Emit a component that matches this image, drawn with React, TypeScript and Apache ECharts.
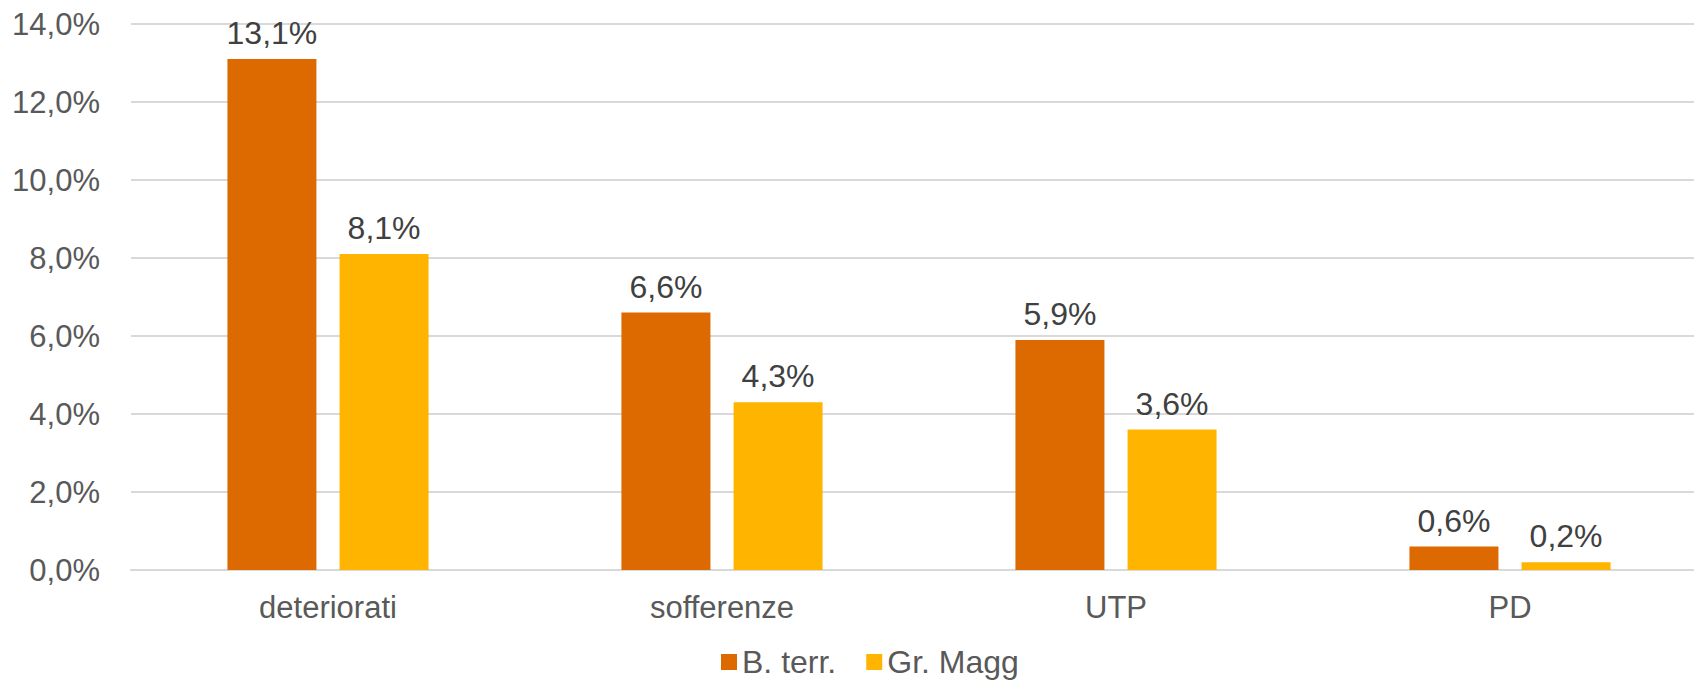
import React, { useEffect, useRef } from "react";
import * as echarts from "echarts";

const categories = ["deteriorati", "sofferenze", "UTP", "PD"];
const seriesNames = ["B. terr.", "Gr. Magg"];
const bTerr = [13.1, 6.6, 5.9, 0.6];
const grMagg = [8.1, 4.3, 3.6, 0.2];
const colors = ["#DD6A00", "#FFB500"];

const fmt = (v: number) => v.toFixed(1).replace(".", ",") + "%";
const FONT = "'Liberation Sans', Arial, sans-serif";

export default function App() {
  const ref = useRef<HTMLDivElement>(null);
  useEffect(() => {
    if (!ref.current) return;
    const chart = echarts.init(ref.current, null, { renderer: "svg" });
    const label = {
      show: true,
      position: "top" as const,
      distance: 10,
      color: "#404040",
      fontSize: 32,
      fontFamily: FONT,
      formatter: (p: any) => fmt(p.value),
    };
    chart.setOption({
      animation: false,
      textStyle: { fontFamily: FONT },
      grid: {
        left: 131,
        width: 1576,
        top: 24,
        bottom: 116,
        containLabel: false,
        outerBoundsMode: "none",
      },
      legend: {
        top: 641,
        left: 716,
        itemWidth: 16,
        itemHeight: 16,
        itemGap: 30,
        icon: "rect",
        textStyle: {
          color: "#595959",
          fontSize: 32,
          fontFamily: FONT,
        },
        data: seriesNames,
      },
      xAxis: {
        type: "category",
        data: categories,
        axisLine: { show: true, lineStyle: { color: "#D9D9D9", width: 2 } },
        axisTick: { show: false },
        axisLabel: { color: "#595959", fontSize: 31, fontFamily: FONT, margin: 22 },
      },
      yAxis: {
        type: "value",
        min: 0,
        max: 14,
        interval: 2,
        axisLine: { show: false },
        axisTick: { show: false },
        splitLine: { lineStyle: { color: "#D9D9D9", width: 2 } },
        axisLabel: {
          color: "#595959",
          fontSize: 31,
          fontFamily: FONT,
          margin: 31,
          formatter: (v: number) => fmt(v),
        },
      },
      series: [
        {
          name: seriesNames[0],
          type: "bar",
          data: bTerr,
          barWidth: 89,
          barGap: "26%",
          itemStyle: { color: colors[0] },
          label,
        },
        {
          name: seriesNames[1],
          type: "bar",
          data: grMagg,
          barWidth: 89,
          barGap: "26%",
          itemStyle: { color: colors[1] },
          label,
        },
      ],
    });
    return () => chart.dispose();
  }, []);
  return (
    <div
      ref={ref}
      style={{ position: "fixed", left: 0, top: 0, width: 1694, height: 686, background: "#fff" }}
    />
  );
}
